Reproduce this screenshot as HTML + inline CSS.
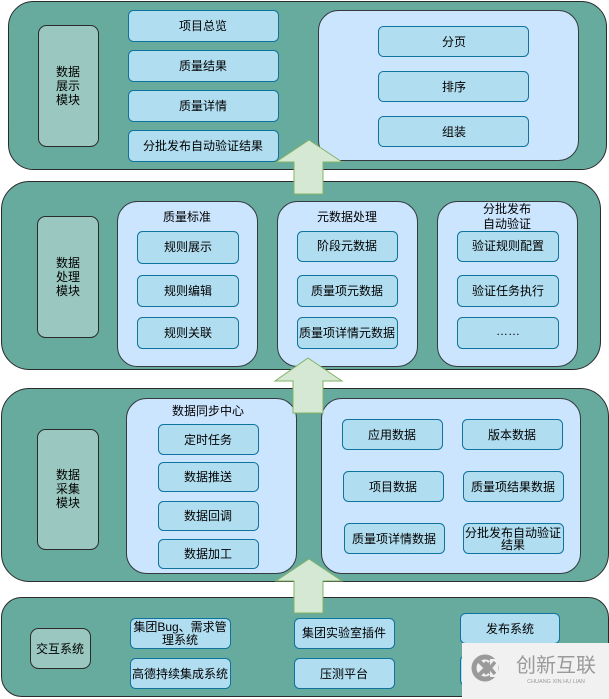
<!DOCTYPE html>
<html><head><meta charset="utf-8"><style>
html,body{margin:0;padding:0;background:#fff;}
svg{display:block;}
text{font-family:"Liberation Sans","Noto Sans CJK SC",sans-serif;font-size:12px;fill:#000;text-anchor:middle;dominant-baseline:central;}
.c{fill:#67AB9F;stroke:#2b2b2b;stroke-width:1;}
.l{fill:#9AC7BF;stroke:#2b2b2b;stroke-width:1;}
.b{fill:#B1DDF0;stroke:#10739E;stroke-width:1;}
.p{fill:#CCE5FF;stroke:#36393d;stroke-width:1;}
.a{fill:#D5E8D4;stroke:#82B366;stroke-width:1;}
</style></head><body>
<svg width="609" height="699" viewBox="0 0 609 699" xmlns="http://www.w3.org/2000/svg">
<!-- Container 1 -->
<rect class="c" x="8.5" y="1.5" width="598" height="168" rx="25"/>
<rect class="l" x="38.5" y="25.5" width="60" height="121" rx="8"/>
<text x="68" y="72">数据</text><text x="68" y="86">展示</text><text x="68" y="100">模块</text>
<rect class="b" x="128.5" y="10.5" width="150" height="31" rx="5"/><text x="203" y="26">项目总览</text>
<rect class="b" x="128.5" y="50.5" width="150" height="31" rx="5"/><text x="203" y="66">质量结果</text>
<rect class="b" x="128.5" y="90.5" width="150" height="31" rx="5"/><text x="203" y="106">质量详情</text>
<rect class="b" x="128.5" y="130.5" width="150" height="31" rx="5"/><text x="203" y="146">分批发布自动验证结果</text>
<rect class="p" x="318.5" y="10.5" width="260" height="150" rx="20"/>
<rect class="b" x="378.5" y="26.5" width="150" height="30" rx="5"/><text x="454" y="42">分页</text>
<rect class="b" x="378.5" y="71.5" width="150" height="30" rx="5"/><text x="454" y="87">排序</text>
<rect class="b" x="378.5" y="116.5" width="150" height="30" rx="5"/><text x="454" y="132">组装</text>

<!-- Container 2 -->
<rect class="c" x="1.5" y="181.5" width="599" height="188" rx="28"/>
<rect class="l" x="37.5" y="216.5" width="61" height="121" rx="8"/>
<text x="68" y="263">数据</text><text x="68" y="277">处理</text><text x="68" y="291">模块</text>
<rect class="p" x="117.5" y="201.5" width="140" height="165" rx="20"/>
<text x="187" y="217">质量标准</text>
<rect class="b" x="137.5" y="231.5" width="101" height="32" rx="5"/><text x="188" y="247">规则展示</text>
<rect class="b" x="137.5" y="275.5" width="101" height="31" rx="5"/><text x="188" y="291">规则编辑</text>
<rect class="b" x="137.5" y="317.5" width="101" height="31" rx="5"/><text x="188" y="333">规则关联</text>
<rect class="p" x="277.5" y="201.5" width="140" height="165" rx="20"/>
<text x="347" y="217">元数据处理</text>
<rect class="b" x="297.5" y="231.5" width="100" height="30" rx="5"/><text x="347" y="246">阶段元数据</text>
<rect class="b" x="297.5" y="275.5" width="100" height="31" rx="5"/><text x="347" y="291">质量项元数据</text>
<rect class="b" x="297.5" y="317.5" width="100" height="31" rx="5"/><text x="347" y="333">质量项详情元数据</text>
<rect class="p" x="437.5" y="201.5" width="140" height="165" rx="20"/>
<text x="507" y="209">分批发布</text><text x="507" y="224">自动验证</text>
<rect class="b" x="457.5" y="231.5" width="101" height="30" rx="5"/><text x="508" y="246">验证规则配置</text>
<rect class="b" x="457.5" y="275.5" width="101" height="31" rx="5"/><text x="508" y="291">验证任务执行</text>
<rect class="b" x="457.5" y="317.5" width="101" height="31" rx="5"/><text x="508" y="331">……</text>

<!-- Container 3 -->
<rect class="c" x="1.5" y="388.5" width="607" height="193" rx="28"/>
<rect class="l" x="37.5" y="429.5" width="61" height="120" rx="8"/>
<text x="68" y="475">数据</text><text x="68" y="489">采集</text><text x="68" y="503">模块</text>
<rect class="p" x="126.5" y="398.5" width="170" height="175" rx="20"/>
<text x="208" y="411">数据同步中心</text>
<rect class="b" x="158.5" y="424.5" width="100" height="30" rx="5"/><text x="208" y="440">定时任务</text>
<rect class="b" x="158.5" y="462.5" width="100" height="29" rx="5"/><text x="208" y="477">数据推送</text>
<rect class="b" x="158.5" y="501.5" width="100" height="29" rx="5"/><text x="208" y="516">数据回调</text>
<rect class="b" x="158.5" y="539.5" width="100" height="29" rx="5"/><text x="208" y="554">数据加工</text>
<rect class="p" x="321.5" y="398.5" width="259" height="175" rx="20"/>
<rect class="b" x="342.5" y="419.5" width="100" height="30" rx="5"/><text x="392" y="435">应用数据</text>
<rect class="b" x="462.5" y="419.5" width="100" height="30" rx="5"/><text x="512" y="435">版本数据</text>
<rect class="b" x="343.5" y="471.5" width="100" height="30" rx="5"/><text x="393" y="487">项目数据</text>
<rect class="b" x="463.5" y="471.5" width="100" height="30" rx="5"/><text x="513" y="487">质量项结果数据</text>
<rect class="b" x="344.5" y="523.5" width="100" height="30" rx="5"/><text x="394" y="539">质量项详情数据</text>
<rect class="b" x="463.5" y="523.5" width="100" height="30" rx="5"/><text x="513" y="533">分批发布自动验证</text><text x="513" y="545">结果</text>

<!-- Container 4 -->
<rect class="c" x="1.5" y="597.5" width="607" height="99" rx="20"/>
<rect class="l" x="30.5" y="628.5" width="60" height="40" rx="8"/><text x="60" y="649">交互系统</text>
<rect class="b" x="130.5" y="618.5" width="100" height="30" rx="5"/><text x="180" y="627">集团Bug、需求管</text><text x="180" y="640">理系统</text>
<rect class="b" x="130.5" y="658.5" width="100" height="30" rx="5"/><text x="180" y="674">高德持续集成系统</text>
<rect class="b" x="294.5" y="618.5" width="100" height="30" rx="5"/><text x="344" y="633">集团实验室插件</text>
<rect class="b" x="294.5" y="658.5" width="100" height="30" rx="5"/><text x="344" y="674">压测平台</text>
<rect class="b" x="460.5" y="613.5" width="99" height="30" rx="5"/><text x="510" y="629">发布系统</text>
<rect class="b" x="460.5" y="655.5" width="99" height="30" rx="5"/>

<!-- Arrows -->
<polygon class="a" points="309,140 342,162 323,162 323,194 294,194 294,162 276,162"/>
<polygon class="a" points="308,358 342,381 323,381 323,413 293,413 293,381 275,381"/>
<polygon class="a" points="309,559 342,581 323,581 323,613 294,613 294,581 276,581"/>

<!-- Watermark -->
<rect x="462" y="643" width="147" height="56" fill="#f1f1f1"/>
<circle cx="485" cy="668" r="11" fill="none" stroke="#9a9a9a" stroke-width="5"/>
<path d="M479 661 L493 675 M493 661 L479 675" stroke="#9a9a9a" stroke-width="4" fill="none"/>
<rect x="490" y="659" width="8" height="18" fill="#f1f1f1"/>
<path d="M485 662 L495 674 M495 662 L485 674" stroke="#9a9a9a" stroke-width="3.5" fill="none"/>
<text x="556" y="666" style="font-size:20px;fill:#9a9a9a;">创新互联</text>
<text x="556" y="682" style="font-size:5.5px;fill:#9a9a9a;">CHUANG XIN HU LIAN</text>
</svg>
</body></html>
